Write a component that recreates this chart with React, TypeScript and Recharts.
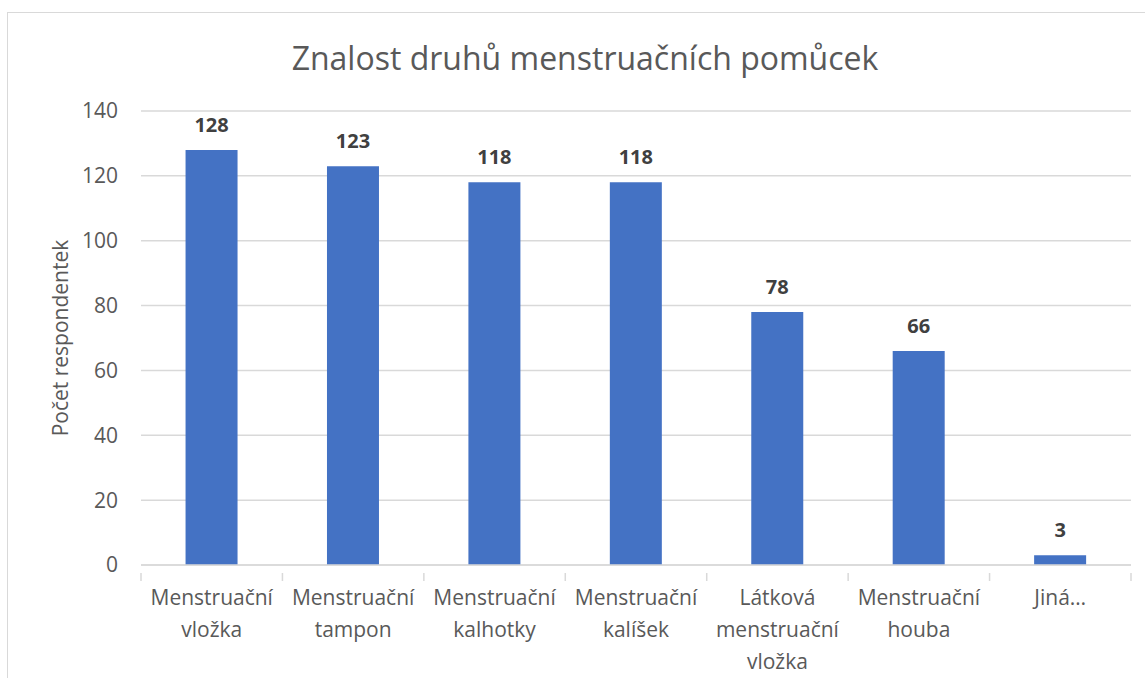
import React from "react";
import { BarChart, Bar, XAxis, YAxis, CartesianGrid, LabelList } from "recharts";

const categories = [
  "Menstruační vložka",
  "Menstruační tampon",
  "Menstruační kalhotky",
  "Menstruační kalíšek",
  "Látková menstruační vložka",
  "Menstruační houba",
  "Jiná…",
];
const categoryLines: string[][] = [
  ["Menstruační", "vložka"],
  ["Menstruační", "tampon"],
  ["Menstruační", "kalhotky"],
  ["Menstruační", "kalíšek"],
  ["Látková", "menstruační", "vložka"],
  ["Menstruační", "houba"],
  ["Jiná…"],
];
const values = [128, 123, 118, 118, 78, 66, 3];
const yTicks = [0, 20, 40, 60, 80, 100, 120, 140];

const data = categories.map((c, i) => ({ name: c, value: values[i], idx: i }));

const FONT = "'Open Sans', sans-serif";
const TEXT = "#595959";
const GRID = "#d9d9d9";
const BAND = 990 / 7;

const XTick = (props: any) => {
  const { x, y, payload, index } = props;
  const i0 = payload.index ?? index;
  const lines = categoryLines[i0] || [String(payload.value)];
  const left = x - BAND / 2;
  return (
    <g>
      <line x1={left} y1={y} x2={left} y2={y + 8} stroke={GRID} strokeWidth={1.5} />
      {i0 === categories.length - 1 && (
        <line x1={left + BAND} y1={y} x2={left + BAND} y2={y + 8} stroke={GRID} strokeWidth={1.5} />
      )}
      <text textAnchor="middle" fontFamily={FONT} fontSize={21} fill={TEXT}>
        {lines.map((l, i) => (
          <tspan key={i} x={x} y={y + 32 + i * 32}>
            {l}
          </tspan>
        ))}
      </text>
    </g>
  );
};

export default function App() {
  return (
    <div style={{ position: "absolute", left: 0, top: 0, width: 1145, height: 678, background: "#fff", overflow: "hidden" }}>
      <div style={{ position: "absolute", left: 7, top: 12, width: 1160, height: 700, border: "1.5px solid #d9d9d9", boxSizing: "border-box" }} />
      <div
        style={{
          position: "absolute",
          left: 0,
          width: 1170,
          top: 36,
          textAlign: "center",
          fontFamily: FONT,
          fontSize: 32,
          color: TEXT,
          lineHeight: "44px",
        }}
      >
        Znalost druhů menstruačních pomůcek
      </div>
      <div
        style={{
          position: "absolute",
          left: 60,
          top: 338,
          transform: "translate(-50%, -50%) rotate(-90deg)",
          fontFamily: FONT,
          fontSize: 21,
          color: TEXT,
          whiteSpace: "nowrap",
        }}
      >
        Počet respondentek
      </div>
      <div style={{ position: "absolute", left: 0, top: 0 }}>
        <BarChart
          width={1145}
          height={678}
          data={data}
          margin={{ top: 111, right: 14, bottom: 0, left: 0 }}
          barCategoryGap="31.5%"
        >
          <CartesianGrid vertical={false} stroke={GRID} strokeWidth={1.5} />
          <XAxis
            dataKey="name"
            axisLine={{ stroke: GRID, strokeWidth: 1.5 }}
            tickLine={false}
            tick={<XTick />}
            interval={0}
            height={113}
          />
          <YAxis
            width={141}
            domain={[0, 140]}
            ticks={yTicks}
            axisLine={false}
            tickLine={false}
            tickSize={0}
            tickMargin={23}
            tick={{ fontFamily: FONT, fontSize: 21, fill: TEXT }}
          />
          <Bar dataKey="value" fill="#4472C4" isAnimationActive={false}>
            <LabelList
              dataKey="value"
              position="top"
              offset={18}
              style={{ fontFamily: FONT, fontSize: 20, fontWeight: 700, fill: "#404040" }}
            />
          </Bar>
        </BarChart>
      </div>
    </div>
  );
}
